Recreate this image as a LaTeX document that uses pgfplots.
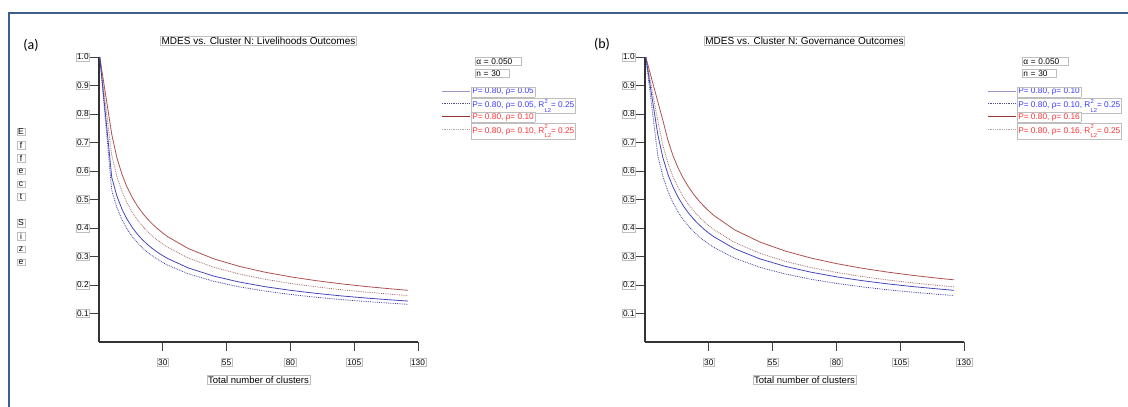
\documentclass[border=0pt]{standalone}
\usepackage{fontspec}
\setmainfont{Liberation Sans}
\newfontfamily\calib{Carlito}
\usepackage{pgfplots}
\pgfplotsset{compat=1.18}

\definecolor{frameblue}{RGB}{60,95,140}
\definecolor{cblue}{RGB}{70,70,185}
\definecolor{cbluedot}{RGB}{60,60,160}
\definecolor{cred}{RGB}{175,80,80}
\definecolor{creddot}{RGB}{165,105,105}
\definecolor{lblue}{RGB}{60,60,255}
\definecolor{lred}{RGB}{255,50,50}
\definecolor{boxgray}{RGB}{190,190,190}
\definecolor{lg1}{RGB}{150,150,190}
\definecolor{lg2}{RGB}{80,80,130}
\definecolor{lg3}{RGB}{150,50,50}
\definecolor{lg4}{RGB}{175,165,165}

\newcommand{\lbx}[2]{{\setlength{\fboxsep}{0.8pt}\setlength{\fboxrule}{0.6pt}\fcolorbox{boxgray}{white}{\textcolor{#1}{#2}}}}
\newcommand{\Rsq}{R\kern0.2pt\raisebox{-1.1ex}{\fontsize{5.8}{6.4}\selectfont\shortstack[l]{2\\[2pt]L2}}}

\pgfplotsset{mdes/.style={
  scale only axis, width=319pt, height=285pt,
  xmin=5, xmax=130, ymin=0, ymax=1,
  axis x line*=bottom, axis y line*=left,
  axis line style={line width=1.6pt, black!80, -},
  xtick={30,55,80,105,130},
  ytick={0.1,0.2,0.3,0.4,0.5,0.6,0.7,0.8,0.9,1.0},
  tick align=outside, major tick length=9pt,
  tick style={line width=0.9pt, black!75},
  /pgf/number format/assume math mode=true,
  yticklabel style={/pgf/number format/fixed, /pgf/number format/fixed zerofill, /pgf/number format/precision=1},
  every tick label/.append style={draw=boxgray, line width=0.7pt, fill=white, inner sep=1pt, font=\fontsize{8.3}{9}\selectfont},
  xticklabel style={yshift=-7pt},
  xlabel={Total number of clusters},
  xlabel style={at={(axis description cs:0.5,0)}, anchor=center, yshift=-38pt, draw=boxgray, line width=0.7pt, fill=white, inner sep=1pt, font=\fontsize{9.5}{10}\selectfont},
  title style={at={(axis description cs:0.5,1)}, anchor=center, yshift=10pt, draw=boxgray, line width=0.7pt, fill=white, inner sep=1pt, font=\fontsize{10}{11}\selectfont},
  legend style={draw=none, fill=none, at={(axis description cs:1,1)}, anchor=north west, xshift=23pt, yshift=-29pt, row sep=1.5pt, inner sep=0pt, font=\fontsize{8.3}{9}\selectfont, nodes={inner sep=0.6pt}},
  legend cell align=left,
  legend image code/.code={\draw[#1] (0pt,0pt) -- (28pt,0pt);},
}}

\begin{document}
\begin{tikzpicture}
\useasboundingbox (0pt,0pt) rectangle (1128pt,407pt);
\draw[frameblue, line width=2.6pt] (1132pt,394pt) -- (9pt,394pt) -- (9pt,-3pt);

\node[font=\calib\fontsize{14}{14}\selectfont] at (31pt,362pt) {(a)};
\node[font=\calib\fontsize{14}{14}\selectfont] at (602pt,363pt) {(b)};

% Effect Size stacked label
\foreach \l/\yy in {E/275,f/262,f/249,e/236,c/223,t/210,S/184,i/171,z/158,e/145}{
  \node[draw=boxgray, line width=0.6pt, inner sep=0.8pt, font=\fontsize{8.5}{8.5}\selectfont, minimum width=8pt] at (21pt,\yy pt) {\l};
}

% ---------- panel (a) ----------
\begin{axis}[mdes, at={(99pt,65pt)}, anchor=south west,
  title={MDES vs. Cluster N: Livelihoods Outcomes}]
\addlegendimage{lg1, line width=1.1pt}
\addlegendentry{\lbx{lblue}{P= 0.80, ρ= 0.05}}
\addlegendimage{lg2, densely dotted, line width=0.8pt}
\addlegendentry{\lbx{lblue}{P= 0.80, ρ= 0.05, \Rsq= 0.25}}
\addlegendimage{lg3, line width=0.8pt}
\addlegendentry{\lbx{lred}{P= 0.80, ρ= 0.10}}
\addlegendimage{lg4, densely dotted, line width=0.8pt}
\addlegendentry{\lbx{lred}{P= 0.80, ρ= 0.10, \Rsq= 0.25}}

% red solid (rho=0.10)
\addplot[cred, line width=0.8pt, forget plot] coordinates {(5.3,1.0)(10,.7285)(12,.6468)(14,.5882)(16,.5432)(18,.5074)(20,.4778)(22,.4529)(24,.4316)(26,.4131)(28,.3968)(30,.3822)(32,.3691)(40,.3278)(50,.2917)(60,.2653)(70,.2450)(80,.2287)(90,.2153)(100,.2040)(110,.1943)(120,.1860)(126,.1814)};
% red dotted (rho=0.10, R2=0.25)
\addplot[creddot, densely dotted, line width=0.8pt, forget plot] coordinates {(5.3,1.0)(10,.6547)(12,.5813)(14,.5286)(16,.4882)(18,.4560)(20,.4294)(22,.4071)(24,.3879)(26,.3713)(28,.3566)(30,.3435)(32,.3318)(40,.2946)(50,.2621)(60,.2384)(70,.2202)(80,.2056)(90,.1935)(100,.1833)(110,.1747)(120,.1671)(126,.1631)};
% blue solid (rho=0.05)
\addplot[cblue, line width=0.8pt, forget plot] coordinates {(5.3,1.0)(10,.5774)(12,.5126)(14,.4662)(16,.4306)(18,.4021)(20,.3787)(22,.3590)(24,.3421)(26,.3274)(28,.3145)(30,.3029)(32,.2926)(40,.2598)(50,.2312)(60,.2103)(70,.1942)(80,.1813)(90,.1707)(100,.1617)(110,.1540)(120,.1474)(126,.1438)};
% blue dotted (rho=0.05, R2=0.25)
\addplot[cbluedot, densely dotted, line width=0.8pt, forget plot] coordinates {(5.3,1.0)(10,.5314)(12,.4718)(14,.4291)(16,.3962)(18,.3701)(20,.3485)(22,.3304)(24,.3148)(26,.3013)(28,.2895)(30,.2788)(32,.2693)(40,.2391)(50,.2128)(60,.1935)(70,.1787)(80,.1668)(90,.1571)(100,.1488)(110,.1418)(120,.1357)(126,.1323)};
\end{axis}
\node[draw=boxgray, line width=0.6pt, fill=white, anchor=north west, inner sep=1pt, text width=44pt, font=\fontsize{8.3}{9}\selectfont] at (475pt,350pt) {α = 0.050};
\node[draw=boxgray, line width=0.6pt, fill=white, anchor=north west, inner sep=1pt, text width=32pt, font=\fontsize{8.3}{9}\selectfont] at (475pt,338pt) {n = 30};

% ---------- panel (b) ----------
\begin{axis}[mdes, at={(645pt,65pt)}, anchor=south west,
  title={MDES vs. Cluster N: Governance Outcomes}]
\addlegendimage{lg1, line width=1.1pt}
\addlegendentry{\lbx{lblue}{P= 0.80, ρ= 0.10}}
\addlegendimage{lg2, densely dotted, line width=0.8pt}
\addlegendentry{\lbx{lblue}{P= 0.80, ρ= 0.10, \Rsq= 0.25}}
\addlegendimage{lg3, line width=0.8pt}
\addlegendentry{\lbx{lred}{P= 0.80, ρ= 0.16}}
\addlegendimage{lg4, densely dotted, line width=0.8pt}
\addlegendentry{\lbx{lred}{P= 0.80, ρ= 0.16, \Rsq= 0.25}}

% red solid (rho=0.16)
\addplot[cred, line width=0.8pt, forget plot] coordinates {(5.3,1.0)(12,.7778)(14,.7074)(16,.6533)(18,.6101)(20,.5746)(22,.5447)(24,.5190)(26,.4968)(28,.4772)(30,.4596)(32,.4439)(40,.3942)(50,.3508)(60,.3190)(70,.2946)(80,.2751)(90,.2589)(100,.2453)(110,.2337)(120,.2236)(126,.2182)};
% red dotted (rho=0.16, R2=0.25)
\addplot[creddot, densely dotted, line width=0.8pt, forget plot] coordinates {(5.3,1.0)(10,.7773)(12,.6901)(14,.6276)(16,.5796)(18,.5414)(20,.5098)(22,.4833)(24,.4605)(26,.4408)(28,.4234)(30,.4078)(32,.3939)(40,.3498)(50,.3112)(60,.2831)(70,.2614)(80,.2441)(90,.2297)(100,.2177)(110,.2074)(120,.1984)(126,.1936)};
% blue solid (rho=0.10)
\addplot[cblue, line width=0.8pt, forget plot] coordinates {(5.3,1.0)(10,.7285)(12,.6468)(14,.5882)(16,.5432)(18,.5074)(20,.4778)(22,.4529)(24,.4316)(26,.4131)(28,.3968)(30,.3822)(32,.3691)(40,.3278)(50,.2917)(60,.2653)(70,.2450)(80,.2287)(90,.2153)(100,.2040)(110,.1943)(120,.1860)(126,.1814)};
% blue dotted (rho=0.10, R2=0.25)
\addplot[cbluedot, densely dotted, line width=0.8pt, forget plot] coordinates {(5.3,1.0)(10,.6547)(12,.5813)(14,.5286)(16,.4882)(18,.4560)(20,.4294)(22,.4071)(24,.3879)(26,.3713)(28,.3566)(30,.3435)(32,.3318)(40,.2946)(50,.2621)(60,.2384)(70,.2202)(80,.2056)(90,.1935)(100,.1833)(110,.1747)(120,.1671)(126,.1631)};
\end{axis}
\node[draw=boxgray, line width=0.6pt, fill=white, anchor=north west, inner sep=1pt, text width=44pt, font=\fontsize{8.3}{9}\selectfont] at (1022pt,350pt) {α = 0.050};
\node[draw=boxgray, line width=0.6pt, fill=white, anchor=north west, inner sep=1pt, text width=32pt, font=\fontsize{8.3}{9}\selectfont] at (1022pt,338pt) {n = 30};
\end{tikzpicture}
\end{document}
